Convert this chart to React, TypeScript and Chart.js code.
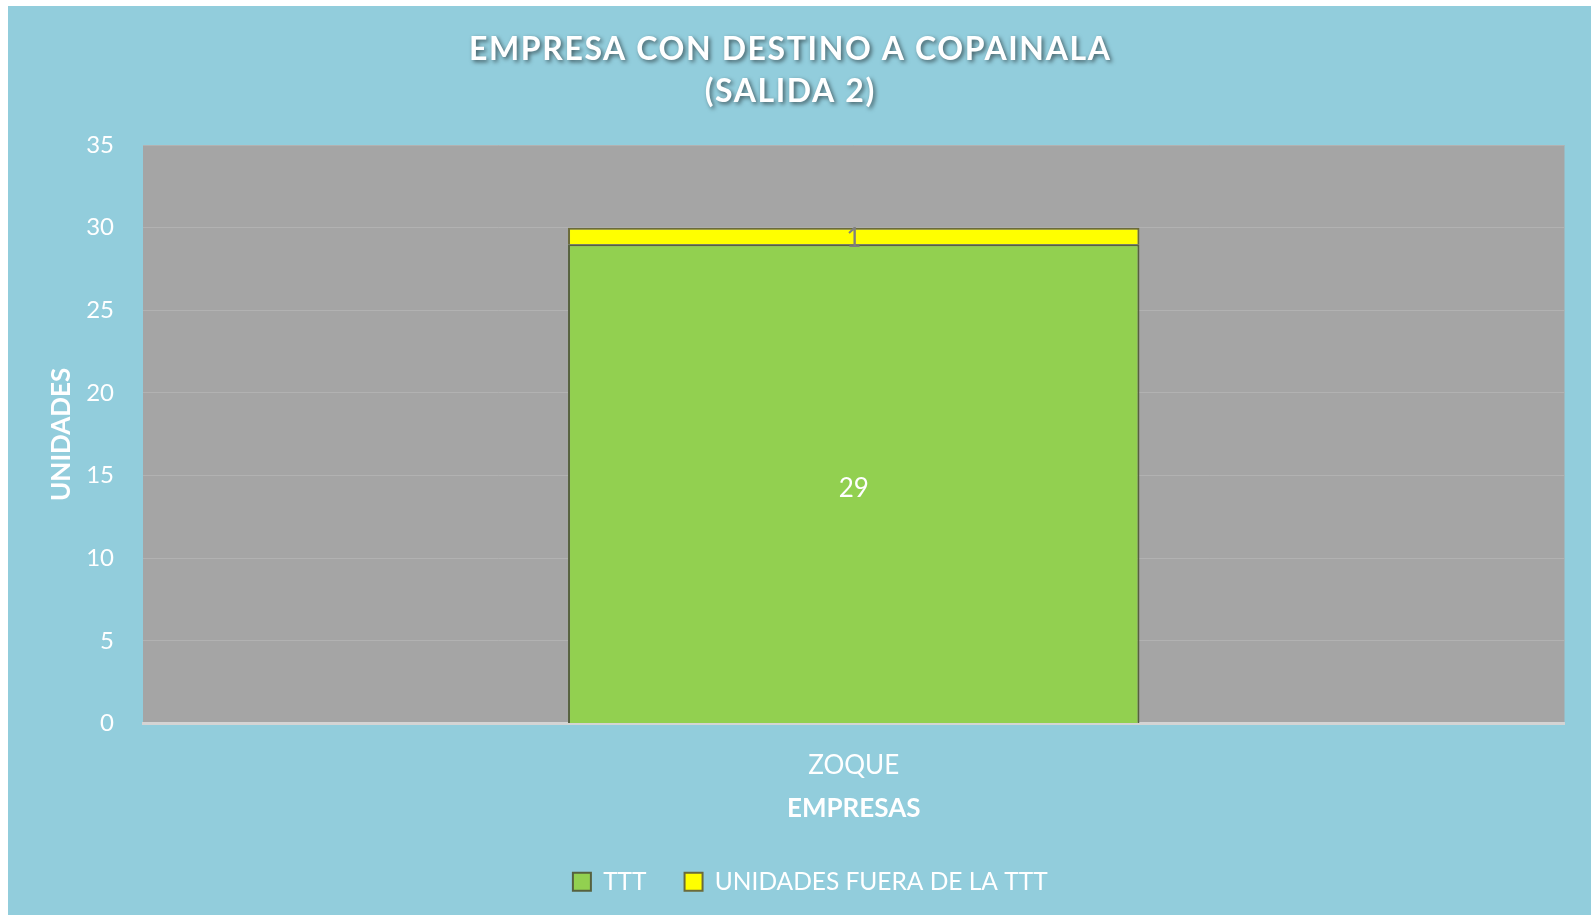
import React, { useEffect, useRef } from "react";
import { Chart, registerables } from "chart.js";

Chart.register(...registerables);

const categories = ["ZOQUE"];
const seriesNames = ["TTT", "UNIDADES FUERA DE LA TTT"];
const tttValues = [29];
const fueraValues = [1];
const titleLines = ["EMPRESA CON DESTINO A COPAINALA", "(SALIDA 2)"];
const xAxisTitle = "EMPRESAS";
const yAxisTitle = "UNIDADES";
const yMin = 0;
const yMax = 35;
const yStep = 5;

const FONT = "Lato, 'Open Sans', sans-serif";

const plotBackground = {
  id: "plotBackground",
  beforeDraw(chart: any) {
    const { ctx, chartArea } = chart;
    ctx.save();
    ctx.fillStyle = "#A5A5A5";
    ctx.fillRect(chartArea.left, chartArea.top, chartArea.right - chartArea.left, chartArea.bottom - chartArea.top);
    ctx.restore();
    const tb = chart.titleBlock;
    if (tb && !tb.__patched) {
      const orig = tb.draw.bind(tb);
      tb.draw = (...args: any[]) => {
        const c = chart.ctx;
        c.save();
        c.translate(4, 0);
        c.shadowColor = "rgba(0,0,0,0.55)";
        c.shadowBlur = 4;
        c.shadowOffsetX = 2;
        c.shadowOffsetY = 2;
        (c as any).letterSpacing = "1.6px";
        orig(...args);
        c.restore();
      };
      tb.__patched = true;
    }
  },
};

const legendShift = {
  id: "legendShift",
  afterUpdate(chart: any) {
    const lg = chart.legend;
    if (lg) {
      lg.left += 24;
      lg.right += 24;
    }
  },
};

const valueLabels = {
  id: "valueLabels",
  afterDatasetsDraw(chart: any) {
    const { ctx } = chart;
    const colors = ["#FFFFFF", "#7F7F7F"];
    const dy = [5, 3];
    chart.data.datasets.forEach((ds: any, di: number) => {
      const meta = chart.getDatasetMeta(di);
      meta.data.forEach((el: any, i: number) => {
        const v = ds.data[i];
        ctx.save();
        ctx.font = `26px ${FONT}`;
        ctx.fillStyle = colors[di];
        ctx.textAlign = "center";
        ctx.textBaseline = "middle";
        ctx.fillText(String(v), el.x, (el.y + el.base) / 2 + dy[di]);
        ctx.restore();
      });
    });
  },
};

export default function App() {
  const ref = useRef<HTMLCanvasElement | null>(null);

  useEffect(() => {
    if (!ref.current) return;
    const chart = new Chart(ref.current, {
      type: "bar",
      data: {
        labels: categories,
        datasets: [
          {
            label: seriesNames[0],
            data: tttValues,
            backgroundColor: "#92D050",
            borderColor: "#56613F",
            borderWidth: 2,
            categoryPercentage: 1,
            barPercentage: 0.402,
          },
          {
            label: seriesNames[1],
            data: fueraValues,
            backgroundColor: "#FFFF00",
            borderColor: "#6B6B3A",
            borderWidth: 2,
            categoryPercentage: 1,
            barPercentage: 0.402,
          },
        ],
      },
      options: {
        responsive: true,
        maintainAspectRatio: false,
        animation: false,
        layout: { padding: { left: 0, right: 26.5, top: 0, bottom: 11 } },
        plugins: {
          title: {
            display: true,
            text: titleLines,
            color: "#FFFFFF",
            font: { family: FONT, size: 32, weight: "bold", lineHeight: 1.33 },
            padding: { top: 22, bottom: 32 },
          },
          legend: {
            position: "bottom",
            labels: {
              color: "#FFFFFF",
              font: { family: FONT, size: 24.5 },
              boxWidth: 18,
              boxHeight: 18,
              padding: 38,
            },
          },
          tooltip: { enabled: false },
        },
        scales: {
          x: {
            stacked: true,
            z: 1,
            grid: { display: false },
            border: { display: true, color: "#D4D4D4", width: 3 },
            ticks: { color: "#FFFFFF", font: { family: FONT, size: 26 }, padding: 19 },
            title: {
              display: true,
              text: xAxisTitle,
              color: "#FFFFFF",
              font: { family: FONT, size: 26, weight: "bold" },
              padding: { top: 0, bottom: 7 },
            },
            afterFit: (scale: any) => {
              scale.height = 108;
            },
          },
          y: {
            stacked: true,
            min: yMin,
            max: yMax,
            grid: { color: "#B2B2B2", lineWidth: 1, drawTicks: false },
            border: { display: false },
            ticks: { stepSize: yStep, color: "#FFFFFF", font: { family: FONT, size: 24 }, padding: 29 },
            title: {
              display: true,
              text: yAxisTitle,
              color: "#FFFFFF",
              font: { family: FONT, size: 26, weight: "bold" },
              padding: { top: 38, bottom: 0 },
            },
            afterFit: (scale: any) => {
              scale.width = 135;
            },
          },
        },
      },
      plugins: [plotBackground, legendShift, valueLabels],
    });
    return () => chart.destroy();
  }, []);

  return (
    <div
      style={{
        position: "fixed",
        left: 8,
        top: 6,
        width: 1583,
        height: 909,
        background: "#92CDDC",
      }}
    >
      <canvas ref={ref} />
    </div>
  );
}
